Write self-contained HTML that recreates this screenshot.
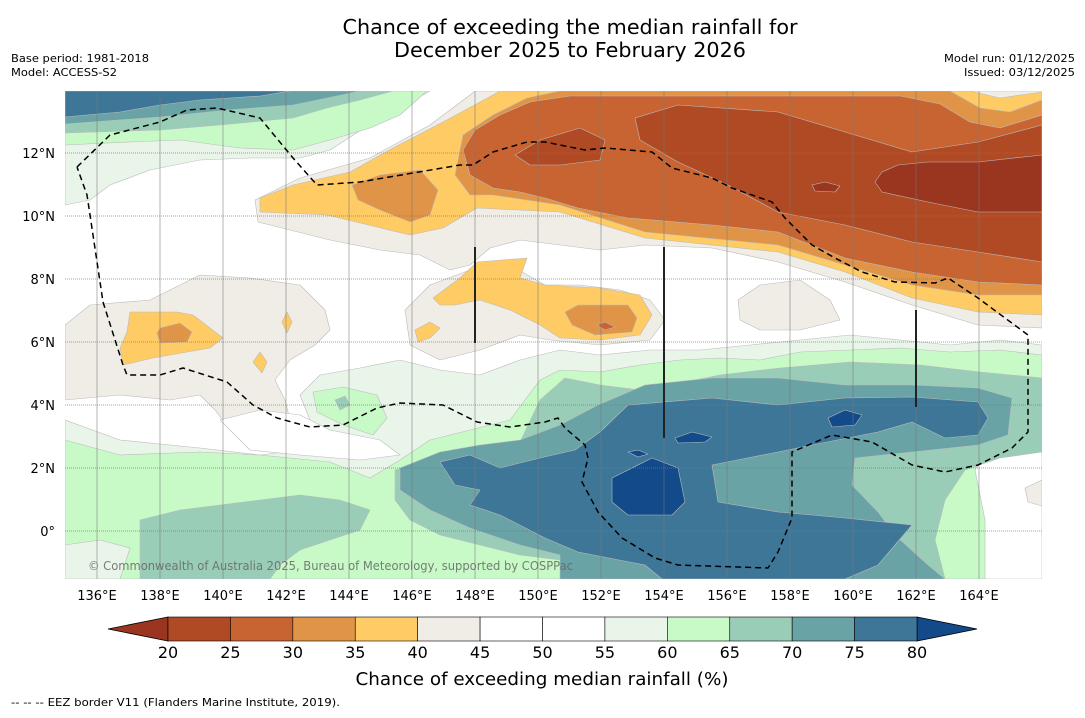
<!DOCTYPE html>
<html><head><meta charset="utf-8"><style>
body{margin:0;background:#fff;width:1085px;height:713px;overflow:hidden;font-family:"Liberation Sans","DejaVu Sans",sans-serif}
svg text{font-family:"DejaVu Sans","Liberation Sans",sans-serif}
</style></head><body>
<svg id="chart" width="1085" height="713" viewBox="0 0 1085 713" xmlns="http://www.w3.org/2000/svg">
<text x="570" y="34" font-size="20" text-anchor="middle" fill="#000" textLength="455" lengthAdjust="spacingAndGlyphs">Chance of exceeding the median rainfall for</text>
<text x="570" y="57" font-size="20" text-anchor="middle" fill="#000" textLength="352" lengthAdjust="spacingAndGlyphs">December 2025 to February 2026</text>
<text x="11" y="62" font-size="11" textLength="138" lengthAdjust="spacingAndGlyphs">Base period: 1981-2018</text>
<text x="11" y="76" font-size="11" textLength="106" lengthAdjust="spacingAndGlyphs">Model: ACCESS-S2</text>
<text x="1075" y="62" font-size="11" text-anchor="end" textLength="131" lengthAdjust="spacingAndGlyphs">Model run: 01/12/2025</text>
<text x="1075" y="76" font-size="11" text-anchor="end" textLength="111" lengthAdjust="spacingAndGlyphs">Issued: 03/12/2025</text>
<defs><clipPath id="mapclip"><rect x="65" y="91" width="977" height="488"/></clipPath></defs>
<g clip-path="url(#mapclip)" stroke="#bbb" stroke-width="0.6" stroke-linejoin="round">
<rect x="65" y="91" width="977" height="488" fill="#fff" stroke="none"/>
<polygon fill="#f0ece6" points="255,200 300,178 370,158 430,125 470,95 475,91 1042,91 1042,328 978,325 912,305 845,282 778,262 712,248 645,245 600,250 560,245 520,240 490,248 470,265 450,270 420,255 380,250 330,240 290,230 258,222"/>
<polygon fill="#f0ece6" points="405,310 430,285 470,270 510,265 545,285 580,285 620,290 650,300 665,320 650,340 600,345 550,340 520,335 480,350 440,360 410,345"/>
<polygon fill="#f0ece6" points="738,300 760,285 800,280 830,300 840,320 800,330 760,330 740,320"/>
<polygon fill="#f0ece6" points="65,325 90,305 150,300 200,275 250,278 300,285 325,310 330,330 315,345 290,360 275,380 285,400 290,420 260,432 230,430 215,410 200,395 170,400 120,395 65,400"/>
<polygon fill="#ffcb64" points="260,198 293,185 350,172 393,148 443,122 493,95 500,91 970,91 1000,98 1042,92 1042,315 978,312 912,298 845,272 778,252 645,238 560,212 477,208 443,228 410,235 327,215 260,212"/>
<polygon fill="#e09448" points="352,185 380,175 420,170 438,190 430,215 410,222 380,210 358,200"/>
<polygon fill="#e09448" points="463,135 493,115 527,98 560,91 950,91 980,108 1010,112 1042,100 1042,295 978,295 912,285 845,265 778,245 645,232 560,205 493,195 470,195 455,175"/>
<polygon fill="#c86432" points="463,150 475,130 500,115 530,102 570,96 900,96 940,104 970,122 1000,128 1042,115 1042,285 978,282 912,272 845,258 778,232 712,225 628,218 578,208 545,198 520,192 493,188 470,175"/>
<polygon fill="#b04a25" points="635,118 678,105 778,112 845,132 912,152 978,142 1042,125 1042,262 978,252 912,242 845,225 778,212 728,185 678,162 640,140"/>
<polygon fill="#b04a25" points="515,155 540,140 580,128 605,140 600,160 560,165 530,165"/>
<polygon fill="#9a3520" points="882,172 898,165 928,162 978,162 1042,155 1042,212 978,212 928,202 882,192 875,182"/>
<polygon fill="#9a3520" points="812,185 825,182 840,186 835,192 815,191"/>
<polygon fill="#ffcb64" points="433,298 460,278 477,262 527,258 520,278 545,285 600,288 640,295 652,315 640,335 600,340 560,338 540,325 510,310 480,300 455,305 440,305"/>
<polygon fill="#e09448" points="565,312 578,305 628,305 637,318 632,332 595,335 572,325"/>
<polygon fill="#c86432" points="597,325 605,322 615,327 605,330"/>
<polygon fill="#ffcb64" points="415,330 430,322 440,328 430,338 418,342"/>
<polygon fill="#ffcb64" points="130,312 177,312 193,315 223,338 210,348 153,358 123,365 120,348 127,332"/>
<polygon fill="#e09448" points="160,328 180,323 192,332 187,342 160,343 157,333"/>
<polygon fill="#ffcb64" points="287,312 292,322 287,333 282,322"/>
<polygon fill="#ffcb64" points="260,352 267,362 262,373 253,362"/>
<polygon fill="#eaf5ea" points="65,91 430,91 405,105 380,118 330,150 300,158 250,158 200,160 150,170 110,185 90,200 65,205"/>
<polygon fill="#c8fac8" points="65,91 427,91 400,115 370,128 330,140 293,150 240,148 180,140 130,142 65,145"/>
<polygon fill="#9acdb8" points="65,91 393,91 360,100 327,108 293,118 220,125 160,130 65,133"/>
<polygon fill="#6aa3a6" points="65,91 360,91 327,98 293,105 227,110 160,117 65,124"/>
<polygon fill="#3e7698" points="65,91 290,91 260,96 200,100 160,105 120,112 65,117"/>
<polygon fill="#eaf5ea" points="65,420 120,440 200,448 260,455 300,450 310,420 300,395 320,375 360,368 400,360 440,370 480,375 520,360 560,350 600,355 650,350 700,350 750,345 800,340 850,335 900,340 950,345 1000,340 1042,345 1042,579 65,579"/>
<polygon fill="#fff" points="220,420 260,410 300,415 330,430 380,440 400,455 360,460 300,455 250,450"/>
<polygon fill="#fff" points="1000,430 1042,425 1042,579 985,579 975,540 960,500 975,470"/>
<polygon fill="#f0ece6" points="1025,488 1042,480 1042,506 1028,502"/>
<polygon fill="#c8fac8" points="65,440 120,455 200,452 260,455 330,462 370,478 400,460 430,440 470,430 510,420 540,380 560,370 600,372 640,365 680,360 720,358 760,360 800,352 850,350 900,348 950,352 1000,350 1042,355 1042,420 1000,430 975,470 985,520 985,579 65,579"/>
<polygon fill="#c8fac8" points="313,392 343,387 377,395 387,418 373,435 343,425 317,412"/>
<polygon fill="#eaf5ea" points="65,545 100,540 130,548 120,579 65,579"/>
<polygon fill="#9acdb8" points="395,470 440,458 480,448 520,442 540,400 565,378 600,385 640,390 680,383 720,375 780,368 850,362 920,365 980,372 1042,378 1042,452 1000,458 965,470 945,500 935,540 945,579 590,579 560,560 520,555 480,545 440,535 410,520 395,500"/>
<polygon fill="#9acdb8" points="140,520 180,510 220,505 260,500 300,495 340,500 370,510 360,530 330,540 300,550 280,565 270,579 140,579 140,545"/>
<polygon fill="#9acdb8" points="335,400 345,396 350,405 340,410"/>
<polygon fill="#6aa3a6" points="400,468 440,452 480,445 520,440 560,425 598,405 645,385 712,378 778,378 845,385 912,385 978,388 1012,398 1008,435 978,445 912,452 855,458 852,485 878,512 895,535 928,565 945,579 560,579 560,555 520,545 470,528 430,510 400,490"/>
<polygon fill="#3e7698" points="440,462 470,455 500,468 540,458 575,450 600,432 628,405 712,398 778,405 845,398 912,397 978,402 988,418 978,435 945,438 912,422 878,432 812,445 778,452 712,465 718,502 778,512 845,518 912,525 895,545 878,565 845,579 662,579 645,565 578,552 545,538 500,515 470,505 480,490 455,485"/>
<polygon fill="#124a8a" points="612,478 652,458 678,468 685,502 672,515 628,515 612,502"/>
<polygon fill="#124a8a" points="675,438 692,432 712,437 705,442 678,443"/>
<polygon fill="#124a8a" points="828,418 845,410 862,415 855,425 832,427"/>
<polygon fill="#124a8a" points="628,452 638,450 648,454 638,457"/>
<g stroke="#777" stroke-opacity="0.55" stroke-width="1">
<line x1="97" y1="91" x2="97" y2="579"/><line x1="160" y1="91" x2="160" y2="579"/><line x1="223" y1="91" x2="223" y2="579"/><line x1="286" y1="91" x2="286" y2="579"/><line x1="349" y1="91" x2="349" y2="579"/><line x1="412" y1="91" x2="412" y2="579"/><line x1="475" y1="91" x2="475" y2="579"/><line x1="538" y1="91" x2="538" y2="579"/><line x1="601" y1="91" x2="601" y2="579"/><line x1="664" y1="91" x2="664" y2="579"/><line x1="727" y1="91" x2="727" y2="579"/><line x1="790" y1="91" x2="790" y2="579"/><line x1="853" y1="91" x2="853" y2="579"/><line x1="916" y1="91" x2="916" y2="579"/><line x1="979" y1="91" x2="979" y2="579"/>
</g>
<g stroke="#777" stroke-opacity="0.7" stroke-width="1" stroke-dasharray="1,1">
<line x1="65" y1="153" x2="1042" y2="153"/><line x1="65" y1="216" x2="1042" y2="216"/><line x1="65" y1="279" x2="1042" y2="279"/><line x1="65" y1="342" x2="1042" y2="342"/><line x1="65" y1="405" x2="1042" y2="405"/><line x1="65" y1="468" x2="1042" y2="468"/><line x1="65" y1="531" x2="1042" y2="531"/>
</g>
<polyline fill="none" stroke="#000" stroke-width="1.5" stroke-dasharray="6,4" points="77,167 110,135 160,122 187,110 217,108 260,118 293,158 317,185 360,182 460,165 473,165 493,152 527,142 545,142 585,150 605,148 652,152 672,168 712,178 732,188 772,202 785,218 812,245 835,258 862,272 895,282 935,283 948,278 978,298 1028,335 1028,432 1012,448 978,465 945,472 912,465 872,442 832,435 792,452 792,468 792,518 778,552 768,568 678,565 655,558 622,538 598,512 582,482 588,458 585,445 565,428 558,418 545,422 510,427 477,422 443,405 400,403 377,408 343,425 310,427 277,418 253,405 227,382 183,368 160,375 127,375 123,365 103,302 93,235 87,195 77,167"/>
<g stroke="#222" stroke-width="2">
<line x1="475" y1="247" x2="475" y2="343"/><line x1="664" y1="247" x2="664" y2="438"/><line x1="916" y1="310" x2="916" y2="407"/>
</g>
<text x="88" y="570" font-size="12" fill="#666" fill-opacity="0.85" stroke="none" textLength="485" lengthAdjust="spacingAndGlyphs">© Commonwealth of Australia 2025, Bureau of Meteorology, supported by COSPPac</text>
</g>
<g font-size="13" text-anchor="end">
<text x="55" y="158">12°N</text><text x="55" y="221">10°N</text><text x="55" y="284">8°N</text><text x="55" y="347">6°N</text><text x="55" y="410">4°N</text><text x="55" y="473">2°N</text><text x="55" y="536">0°</text>
</g>
<g font-size="13" text-anchor="middle">
<text x="97" y="600">136°E</text><text x="160" y="600">138°E</text><text x="223" y="600">140°E</text><text x="286" y="600">142°E</text><text x="349" y="600">144°E</text><text x="412" y="600">146°E</text><text x="475" y="600">148°E</text><text x="538" y="600">150°E</text><text x="601" y="600">152°E</text><text x="664" y="600">154°E</text><text x="727" y="600">156°E</text><text x="790" y="600">158°E</text><text x="853" y="600">160°E</text><text x="916" y="600">162°E</text><text x="979" y="600">164°E</text>
</g>
<g id="colorbar"></g>
<text x="542" y="685" font-size="18" text-anchor="middle" textLength="373" lengthAdjust="spacingAndGlyphs">Chance of exceeding median rainfall (%)</text>
<text x="11" y="706" font-size="11" textLength="329" lengthAdjust="spacingAndGlyphs">--  --  -- EEZ border V11 (Flanders Marine Institute, 2019).</text>
</svg>
<script>
const levels = [20,25,30,35,40,45,50,55,60,65,70,75,80];
const binColors = ['#b04a25','#c86432','#e09448','#ffcb64','#f0ece6','#ffffff','#ffffff','#eaf5ea','#c8fac8','#9acdb8','#6aa3a6','#3e7698'];
const underColor = '#9a3520';
const overColor = '#124a8a';
const tickLabels = ['20','25','30','35','40','45','50','55','60','65','70','75','80'];
(function(){
  const NS='http://www.w3.org/2000/svg';
  const g=document.getElementById('colorbar');
  const x0=168,x1=917,y0=617,y1=641;
  const vmin=levels[0],vmax=levels[levels.length-1];
  const sx=v=>x0+(v-vmin)/(vmax-vmin)*(x1-x0);
  const ext=60;
  const left=document.createElementNS(NS,'polygon');
  
  
  left.setAttribute('points',`${x0},${y0} ${x0-ext},${(y0+y1)/2} ${x0},${y1}`);
  left.setAttribute('fill',underColor);left.setAttribute('stroke','#000');left.setAttribute('stroke-width','0.8');
  g.appendChild(left);
  const right=document.createElementNS(NS,'polygon');
  
  
  right.setAttribute('points',`${x1},${y0} ${x1+ext},${(y0+y1)/2} ${x1},${y1}`);
  right.setAttribute('fill',overColor);right.setAttribute('stroke','#000');right.setAttribute('stroke-width','0.8');
  g.appendChild(right);
  for(let i=0;i<binColors.length;i++){
    const r=document.createElementNS(NS,'rect');
    
    
    r.setAttribute('x',sx(levels[i]));r.setAttribute('y',y0);
    r.setAttribute('width',sx(levels[i+1])-sx(levels[i]));r.setAttribute('height',y1-y0);
    r.setAttribute('fill',binColors[i]);r.setAttribute('stroke','#000');r.setAttribute('stroke-width','0.6');
    g.appendChild(r);
  }
  for(let i=0;i<levels.length;i++){
    const t=document.createElementNS(NS,'text');
    
    
    t.setAttribute('x',sx(levels[i]));t.setAttribute('y',658);
    t.setAttribute('font-size','16');t.setAttribute('text-anchor','middle');
    t.textContent=tickLabels[i];
    g.appendChild(t);
  }
})();
</script>
</body></html>
